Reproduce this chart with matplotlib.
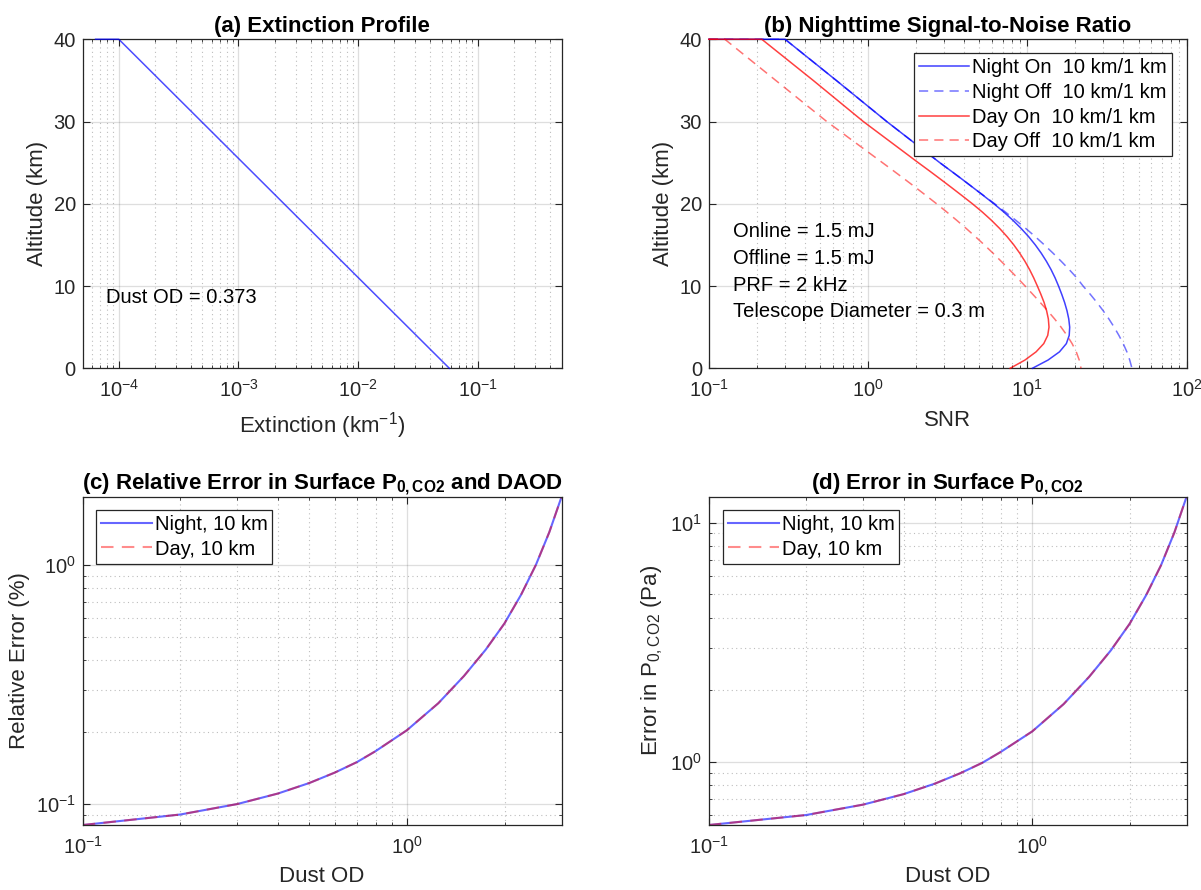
import matplotlib
matplotlib.use('Agg')
import matplotlib.pyplot as plt
from matplotlib.ticker import NullFormatter

plt.rcParams['font.family'] = ['Liberation Sans', 'DejaVu Sans']
plt.rcParams['mathtext.fontset'] = 'custom'
plt.rcParams['mathtext.rm'] = 'Liberation Sans'
plt.rcParams['mathtext.it'] = 'Liberation Sans:italic'
plt.rcParams['mathtext.bf'] = 'Liberation Sans:bold'
plt.rcParams['mathtext.default'] = 'regular'

DARK = (0.15, 0.15, 0.15)
FS = 14.5      # ticks, legends, annotations
FS_LAB = 16    # axis labels and titles

# (a) extinction profile
ext_alt = [40, 40, 30, 20, 10, 0]
ext_val = [6.4e-5, 1.0e-4, 4.9e-4, 2.40e-3, 1.177e-2, 5.77e-2]
dust_od = 0.373

# (b) SNR profiles
snr_alt = [40, 40, 35, 30, 25, 24, 23, 22, 21, 20, 19, 18, 17, 16, 15, 14, 13,
           12, 11, 10, 9, 8, 7, 6, 5, 4, 3, 2, 1, 0]
night_on = [0.1, 0.301, 0.631, 1.309, 2.818, 3.311, 3.882, 4.539, 5.297, 6.166, 7.112,
            8.110, 9.141, 10.19, 11.22, 12.22, 13.18, 14.09, 14.93, 15.70, 16.44, 17.14,
            17.74, 18.20, 18.45, 18.32, 17.58, 15.92, 13.49, 10.76]
night_off = [0.1, 0.301, 0.631, 1.309, 2.818, 3.311, 3.882, 4.539, 5.321, 6.237, 7.278,
             8.453, 9.772, 11.22, 12.79, 14.49, 16.33, 18.32, 20.42, 22.39, 24.83, 27.35,
             29.92, 32.51, 35.08, 37.58, 39.99, 42.17, 43.95, 45.39]
day_on = [0.1, 0.215, 0.452, 0.933, 2.065, 2.427, 2.844, 3.327, 3.882, 4.519, 5.212,
          5.943, 6.699, 7.464, 8.222, 8.954, 9.661, 10.33, 10.96, 11.56, 12.16, 12.74,
          13.21, 13.55, 13.68, 13.43, 12.68, 11.35, 9.66, 7.80]
day_off = [0.1, 0.126, 0.263, 0.550, 1.230, 1.445, 1.694, 1.982, 2.312, 2.692, 3.119,
           3.597, 4.130, 4.721, 5.370, 6.081, 6.855, 7.709, 8.650, 9.683, 10.81, 12.05,
           13.40, 14.83, 16.29, 17.74, 19.10, 20.28, 21.18, 21.73]
snr_labels = ['Night On  10 km/1 km', 'Night Off  10 km/1 km',
              'Day On  10 km/1 km', 'Day Off  10 km/1 km']
instr_text = ['Online = 1.5 mJ', 'Offline = 1.5 mJ', 'PRF = 2 kHz',
              'Telescope Diameter = 0.3 m']

# (c), (d) errors vs dust optical depth
od = [0.1, 0.2, 0.3, 0.4, 0.5, 0.6, 0.7, 0.8, 1.0, 1.25, 1.5, 1.75, 2.0, 2.25, 2.5, 2.75, 3.0]
rel_err_night = [0.0815, 0.0902, 0.0998, 0.1104, 0.1222, 0.1352, 0.1493, 0.166, 0.2032,
                 0.2636, 0.3428, 0.4416, 0.5689, 0.7499, 1.0, 1.371, 1.928]
rel_err_day = rel_err_night
p_err_night = [0.543, 0.598, 0.661, 0.731, 0.809, 0.895, 0.988, 1.099, 1.338, 1.74,
               2.265, 2.92, 3.77, 4.97, 6.62, 9.08, 12.82]
p_err_day = p_err_night


def style(ax, minor_axis='x'):
    ax.set_axisbelow(True)
    ax.tick_params(which='both', direction='in', top=True, right=True,
                   colors=DARK, labelsize=FS)
    ax.tick_params(which='major', length=5, width=0.8)
    ax.tick_params(which='minor', length=2.5, width=0.6)
    ax.tick_params(axis='x', which='both', pad=8)
    ax.tick_params(axis='y', which='both', pad=5)
    for s in ax.spines.values():
        s.set_color(DARK)
        s.set_linewidth(0.9)
    ax.grid(True, which='major', color=DARK, alpha=0.15, lw=0.9)
    ax.grid(True, which='minor', axis=minor_axis, color=DARK, alpha=0.3,
            ls=(0, (1, 3)), lw=0.8)
    ax.xaxis.label.set_color(DARK)
    ax.yaxis.label.set_color(DARK)


def legend(ax, loc, anchor):
    leg = ax.legend(loc=loc, bbox_to_anchor=anchor, fancybox=False, framealpha=1,
                    fontsize=FS, handlelength=2.5, labelspacing=0.28,
                    borderpad=0.25, handletextpad=0.15, borderaxespad=0)
    leg.get_frame().set_edgecolor(DARK)
    leg.get_frame().set_linewidth(0.9)
    return leg


fig = plt.figure(figsize=(12.01, 8.90), dpi=100)
ax_a = fig.add_axes([0.0689, 0.5862, 0.3987, 0.3697])
ax_b = fig.add_axes([0.5902, 0.5862, 0.3978, 0.3697])
ax_c = fig.add_axes([0.0689, 0.0730, 0.3987, 0.3689])
ax_d = fig.add_axes([0.5902, 0.0730, 0.3978, 0.3689])

# (a)
ax_a.plot(ext_val, ext_alt, color='b', alpha=0.7, lw=1.1, zorder=3, clip_on=False)
ax_a.set_xscale('log')
ax_a.set_xlim(5e-5, 0.5)
ax_a.set_ylim(0, 40)
ax_a.set_yticks([0, 10, 20, 30, 40])
ax_a.text(7.8e-5, 8.6, f'Dust OD = {dust_od}', fontsize=FS, va='center')
ax_a.set_xlabel('Extinction (km$^{-1}$)', fontsize=FS_LAB, labelpad=6)
ax_a.set_ylabel('Altitude (km)', fontsize=FS_LAB)
ax_a.set_title('(a) Extinction Profile', fontsize=FS_LAB, fontweight='bold', pad=5)
style(ax_a)

# (b)
dash = (0, (6, 4))
ax_b.plot(night_on, snr_alt, color='b', alpha=0.75, lw=1.1, zorder=3, clip_on=False,
          label=snr_labels[0])
ax_b.plot(night_off, snr_alt, color='b', alpha=0.55, lw=1.1, ls=dash, zorder=3,
          clip_on=False, label=snr_labels[1])
ax_b.plot(day_on, snr_alt, color='r', alpha=0.75, lw=1.1, zorder=3, clip_on=False,
          label=snr_labels[2])
ax_b.plot(day_off, snr_alt, color='r', alpha=0.55, lw=1.1, ls=dash, zorder=3,
          clip_on=False, label=snr_labels[3])
ax_b.set_xscale('log')
ax_b.set_xlim(0.1, 100)
ax_b.set_ylim(0, 40)
ax_b.set_yticks([0, 10, 20, 30, 40])
for i, t in enumerate(instr_text):
    ax_b.text(0.141, 16.6 - 3.24 * i, t, fontsize=FS, va='center')
ax_b.set_xlabel('SNR', fontsize=FS_LAB, labelpad=6)
ax_b.set_ylabel('Altitude (km)', fontsize=FS_LAB)
ax_b.set_title('(b) Nighttime Signal-to-Noise Ratio', fontsize=FS_LAB, fontweight='bold', pad=5)
style(ax_b)
legend(ax_b, 'upper right', (0.97, 0.957))

# (c)
ax_c.plot(od, rel_err_night, color='b', alpha=0.6, lw=1.5, label='Night, 10 km')
ax_c.plot(od, rel_err_day, color='r', alpha=0.45, lw=1.5, ls=dash, label='Day, 10 km')
ax_c.set_xscale('log')
ax_c.set_yscale('log')
ax_c.set_xlim(min(od), max(od))
ax_c.set_ylim(min(rel_err_night), max(rel_err_night))
ax_c.xaxis.set_minor_formatter(NullFormatter())
ax_c.yaxis.set_minor_formatter(NullFormatter())
ax_c.set_xlabel('Dust OD', fontsize=FS_LAB, labelpad=6)
ax_c.set_ylabel('Relative Error (%)', fontsize=FS_LAB)
ax_c.set_title(r'(c) Relative Error in Surface P$_{\mathbf{0,CO2}}$ and DAOD',
               fontsize=FS_LAB, fontweight='bold', pad=5)
style(ax_c, 'both')
legend(ax_c, 'upper left', (0.028, 0.96))

# (d)
ax_d.plot(od, p_err_night, color='b', alpha=0.6, lw=1.5, label='Night, 10 km')
ax_d.plot(od, p_err_day, color='r', alpha=0.45, lw=1.5, ls=dash, label='Day, 10 km')
ax_d.set_xscale('log')
ax_d.set_yscale('log')
ax_d.set_xlim(min(od), max(od))
ax_d.set_ylim(min(p_err_night), max(p_err_night))
ax_d.xaxis.set_minor_formatter(NullFormatter())
ax_d.yaxis.set_minor_formatter(NullFormatter())
ax_d.set_xlabel('Dust OD', fontsize=FS_LAB, labelpad=6)
ax_d.set_ylabel('Error in P$_{0,CO2}$ (Pa)', fontsize=FS_LAB)
ax_d.set_title(r'(d) Error in Surface P$_{\mathbf{0,CO2}}$',
               fontsize=FS_LAB, fontweight='bold', pad=5)
style(ax_d, 'both')
legend(ax_d, 'upper left', (0.03, 0.96))

fig.savefig('out.png', dpi=100)
